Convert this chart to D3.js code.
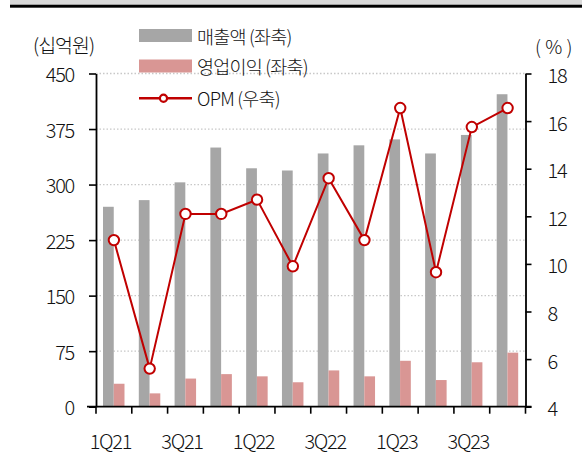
<!DOCTYPE html>
<html><head><meta charset="utf-8">
<script src="https://cdn.jsdelivr.net/npm/d3@7"></script>
<style>
html,body{margin:0;padding:0;background:#fff;}
text{font-family:"Noto Sans CJK KR","Noto Sans",sans-serif;fill:#111;font-weight:300;}
</style></head>
<body>
<svg id="c" width="582" height="459"></svg>
<script>
const categories = ["1Q21","2Q21","3Q21","4Q21","1Q22","2Q22","3Q22","4Q22","1Q23","2Q23","3Q23","4Q23"];
const sales = [270, 279, 303, 350, 322, 319, 342, 353, 361, 342, 367, 422];
const opIncome = [31, 18, 38, 44, 41, 33, 49, 41, 62, 36, 60, 73];
const opm = [11.0, 5.6, 12.1, 12.1, 12.7, 9.9, 13.6, 11.0, 16.55, 9.65, 15.75, 16.55];
const leftTicks = [0, 75, 150, 225, 300, 375, 450];
const rightTicks = [4, 6, 8, 10, 12, 14, 16, 18];
const xLabels = ["1Q21","","3Q21","","1Q22","","3Q22","","1Q23","","3Q23",""];
const legendLabels = ["매출액 (좌축)", "영업이익 (좌축)", "OPM (우축)"];

const svg = d3.select("#c");
const L = 96, R = 525.5, T = 73.5, B = 406.7;
const GRAY = "#a6a6a6", PINK = "#d99694", RED = "#c00000";

// top band
svg.append("rect").attr("x",10).attr("y",0).attr("width",572).attr("height",4.7).attr("fill","#d9d9d9");
svg.append("rect").attr("x",10).attr("y",4.7).attr("width",572).attr("height",3).attr("fill","#000");

const x = d3.scaleBand().domain(categories).range([L, R]).padding(0);
const sub = d3.scaleBand().domain(["s","o"]).range([7, x.bandwidth()-7.3]).padding(0);
const yL = d3.scaleLinear().domain([0,450]).range([B, T]);
const yR = d3.scaleLinear().domain([4,18]).range([B, T]);

// gridlines
svg.append("g").selectAll("line").data(leftTicks.filter(d=>d>0)).join("line")
  .attr("x1", L).attr("x2", R).attr("y1", d=>yL(d)).attr("y2", d=>yL(d))
  .attr("stroke","#c8c8c8").attr("stroke-width",1.3).attr("stroke-dasharray","1.5,2");

// bars
svg.append("g").selectAll("rect").data(sales).join("rect")
  .attr("x",(d,i)=>x(categories[i])+sub("s")).attr("width",sub.bandwidth())
  .attr("y",d=>yL(d)).attr("height",d=>yL(0)-yL(d)).attr("fill",GRAY);
svg.append("g").selectAll("rect").data(opIncome).join("rect")
  .attr("x",(d,i)=>x(categories[i])+sub("o")).attr("width",sub.bandwidth())
  .attr("y",d=>yL(d)).attr("height",d=>yL(0)-yL(d)).attr("fill",PINK);

// axes
const axL = svg.append("g").attr("transform",`translate(${L},0)`)
  .call(d3.axisLeft(yL).tickValues(leftTicks).tickSize(7).tickPadding(15).tickSizeOuter(0));
const axR = svg.append("g").attr("transform",`translate(${R},0)`)
  .call(d3.axisRight(yR).tickValues(rightTicks).tickSize(6).tickPadding(16).tickSizeOuter(0));
const axB = svg.append("g").attr("transform",`translate(0,${B})`)
  .call(d3.axisBottom(x).tickValues([]).tickSizeOuter(0));
// boundary ticks for x axis
const bounds = categories.map(c=>x(c)).concat([R]);
svg.append("g").selectAll("line").data(bounds).join("line")
  .attr("x1",d=>d).attr("x2",d=>d).attr("y1",B).attr("y2",B+7)
  .attr("stroke","#000").attr("stroke-width",1.6);
[axL, axR, axB].forEach(a=>{
  a.select(".domain").attr("stroke","#000").attr("stroke-width",1.8);
  a.selectAll(".tick line").attr("stroke","#000").attr("stroke-width",1.6);
  a.selectAll("text").attr("font-size",20).attr("letter-spacing",-1.3)
    .attr("font-family","'Noto Sans CJK KR', sans-serif").attr("font-weight",300).attr("fill","#111");
});
axL.selectAll(".tick text").attr("dy","0.4em");
axR.selectAll(".tick text").attr("dy","0.45em");
axB.select(".domain").attr("d",`M87,0H${R+6}`);

// x labels
svg.append("g").selectAll("text").data(xLabels).join("text")
  .attr("x",(d,i)=>x(categories[i])+x.bandwidth()/2-3.5).attr("y",440)
  .attr("text-anchor","middle").attr("dominant-baseline","central")
  .attr("font-size",20).attr("letter-spacing",-1.3).text(d=>d);

// OPM line
const line = d3.line().x((d,i)=>x(categories[i])+x.bandwidth()/2).y(d=>yR(d));
svg.append("path").datum(opm).attr("d",line).attr("fill","none")
  .attr("stroke",RED).attr("stroke-width",2);
svg.append("g").selectAll("circle").data(opm).join("circle")
  .attr("cx",(d,i)=>x(categories[i])+x.bandwidth()/2).attr("cy",d=>yR(d)).attr("r",5.2)
  .attr("fill","#fff").attr("stroke",RED).attr("stroke-width",2);

// axis titles
svg.append("text").attr("x",33).attr("y",44).attr("dominant-baseline","central")
  .attr("font-size",19.5).attr("letter-spacing",-1).text("(십억원)");
svg.append("text").attr("x",535).attr("y",45).attr("dominant-baseline","central")
  .attr("font-size",19).attr("letter-spacing",0).text("( % )");

// legend
const lg = svg.append("g");
const ly = [35.5, 66, 98.3];
lg.append("rect").attr("x",139).attr("y",29).attr("width",53).attr("height",13).attr("fill",GRAY);
lg.append("rect").attr("x",139).attr("y",59.5).attr("width",53).attr("height",13).attr("fill",PINK);
lg.append("line").attr("x1",139).attr("x2",192).attr("y1",ly[2]).attr("y2",ly[2])
  .attr("stroke",RED).attr("stroke-width",2.5);
lg.append("circle").attr("cx",163.5).attr("cy",ly[2]).attr("r",3.6)
  .attr("fill","#fff").attr("stroke",RED).attr("stroke-width",2.2);
lg.selectAll("text").data(legendLabels).join("text")
  .attr("x",197).attr("y",(d,i)=>ly[i]).attr("dominant-baseline","central")
  .attr("font-size",18.5).attr("letter-spacing",-0.8).text(d=>d);
</script>
</body></html>
